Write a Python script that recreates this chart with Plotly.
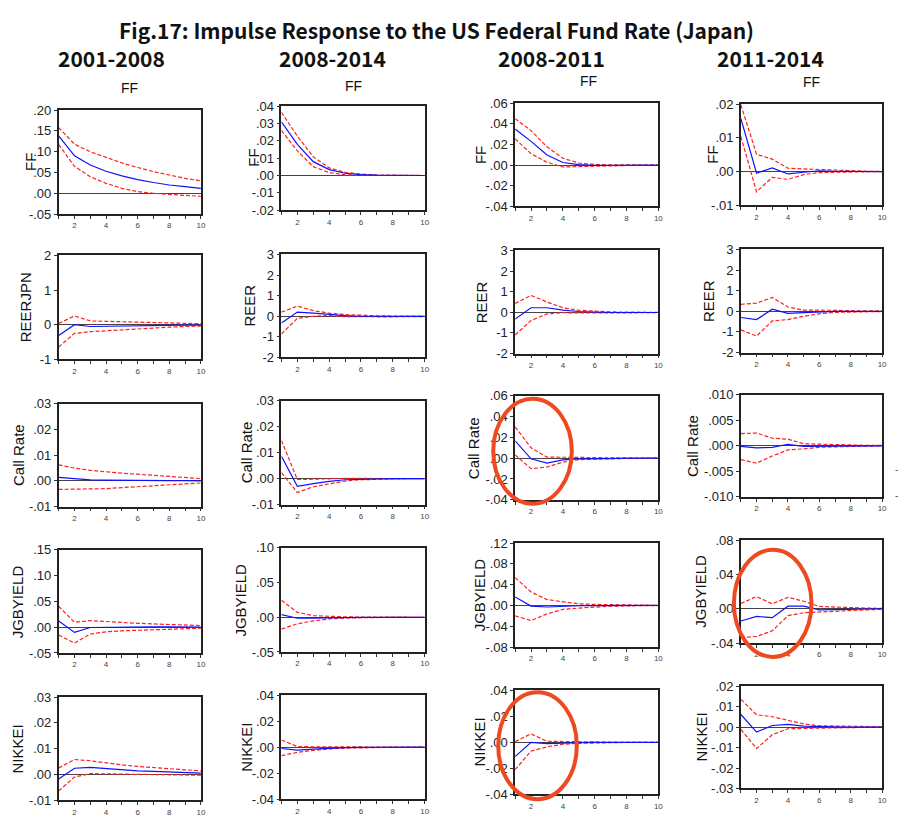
import plotly.graph_objects as go

W, H = 904, 819

# Horizon (periods after the shock)
periods = list(range(1, 11))

# Column headers (sample periods) and response variables (rows)
sample_titles = ["2001-2008", "2008-2014", "2008-2011", "2011-2014"]
row_labels = [
    ["FF", "FF", "FF", "FF"],
    ["REERJPN", "REER", "REER", "REER"],
    ["Call Rate", "Call Rate", "Call Rate", "Call Rate"],
    ["JGBYIELD", "JGBYIELD", "JGBYIELD", "JGBYIELD"],
    ["NIKKEI", "NIKKEI", "NIKKEI", "NIKKEI"],
]

# ---- FF response ----
ff_0108 = [0.138, 0.090, 0.068, 0.053, 0.042, 0.033, 0.026, 0.020, 0.016, 0.012]
ff_0108_hi = [0.158, 0.118, 0.100, 0.086, 0.073, 0.062, 0.052, 0.044, 0.036, 0.030]
ff_0108_lo = [0.117, 0.065, 0.040, 0.024, 0.012, 0.004, 0.000, -0.003, -0.005, -0.007]

ff_0814 = [0.031, 0.018, 0.008, 0.0034, 0.0013, 0.0005, 0.0002, 0.0001, 0.0, 0.0]
ff_0814_hi = [0.0365, 0.0227, 0.0108, 0.0044, 0.0018, 0.0008, 0.0003, 0.0001, 0.0, 0.0]
ff_0814_lo = [0.026, 0.0142, 0.0051, 0.0017, 0.0004, 0.0001, 0.0, 0.0, 0.0, 0.0]

ff_0811 = [0.035, 0.023, 0.0098, 0.0025, 0.0005, -0.0003, -0.0002, -0.0001, 0.0, 0.0]
ff_0811_hi = [0.045, 0.0334, 0.0177, 0.0066, 0.002, 0.0005, 0.0002, 0.0001, 0.0, 0.0]
ff_0811_lo = [0.0255, 0.011, 0.0028, -0.0019, -0.0015, -0.001, -0.0006, -0.0003, -0.0001, 0.0]

ff_1114 = [0.0157, -0.0005, 0.0011, -0.0007, -0.0002, 0.0002, 0.0001, 0.0, 0.0, 0.0]
ff_1114_hi = [0.0198, 0.0051, 0.0037, 0.0010, 0.0008, 0.0006, 0.0003, 0.0002, 0.0001, 0.0001]
ff_1114_lo = [0.0104, -0.0060, -0.0017, -0.0023, -0.0009, -0.0003, -0.0002, -0.0001, -0.0001, 0.0]

# ---- Real effective exchange rate ----
reer_0108 = [-0.31, 0.0, -0.05, -0.04, -0.03, -0.03, -0.02, -0.02, -0.01, -0.01]
reer_0108_hi = [0.04, 0.25, 0.11, 0.10, 0.08, 0.07, 0.06, 0.05, 0.04, 0.03]
reer_0108_lo = [-0.64, -0.25, -0.20, -0.17, -0.14, -0.11, -0.09, -0.07, -0.05, -0.04]

reer_0814 = [-0.33, 0.20, 0.15, 0.08, 0.03, 0.0, -0.01, -0.01, -0.01, -0.01]
reer_0814_hi = [0.20, 0.49, 0.27, 0.15, 0.08, 0.04, 0.02, 0.01, 0.0, 0.0]
reer_0814_lo = [-0.86, -0.10, 0.0, 0.03, -0.02, -0.03, -0.03, -0.03, -0.02, -0.02]

reer_0811 = [-0.33, 0.22, 0.22, 0.11, 0.04, 0.0, -0.01, -0.01, -0.01, -0.01]
reer_0811_hi = [0.43, 0.82, 0.50, 0.22, 0.10, 0.05, 0.02, 0.01, 0.0, 0.0]
reer_0811_lo = [-1.10, -0.40, -0.08, -0.02, -0.03, -0.04, -0.04, -0.03, -0.02, -0.02]

reer_1114 = [-0.30, -0.40, 0.10, -0.10, -0.06, -0.02, 0.0, 0.0, 0.0, 0.0]
reer_1114_hi = [0.34, 0.40, 0.67, 0.21, 0.06, 0.07, 0.05, 0.03, 0.02, 0.02]
reer_1114_lo = [-0.90, -1.20, -0.46, -0.40, -0.24, -0.12, -0.05, -0.03, -0.02, -0.01]

# ---- Call rate ----
call_0108 = [0.0014, 0.0010, 0.0004, 0.0003, 0.0002, 0.0002, 0.0001, 0.0001, 0.0001, 0.0]
call_0108_hi = [0.0062, 0.0050, 0.0041, 0.0035, 0.0030, 0.0026, 0.0022, 0.0017, 0.0013, 0.0009]
call_0108_lo = [-0.0033, -0.0032, -0.0033, -0.0030, -0.0026, -0.0022, -0.0018, -0.0014, -0.0010, -0.0008]

call_0814 = [0.0086, -0.0029, -0.0019, -0.0010, -0.0004, -0.0002, -0.0001, 0.0, 0.0, 0.0]
call_0814_hi = [0.0147, -0.0003, -0.0002, 0.0, 0.0001, 0.0001, 0.0001, 0.0, 0.0, 0.0]
call_0814_lo = [0.0023, -0.0053, -0.0031, -0.0019, -0.0009, -0.0004, -0.0002, -0.0001, 0.0, 0.0]

call_0811 = [0.0167, -0.0006, -0.0047, -0.0016, -0.0006, -0.0003, -0.0001, 0.0, 0.0, 0.0]
call_0811_hi = [0.030, 0.010, 0.001, 0.0012, 0.0008, 0.0005, 0.0003, 0.0002, 0.0001, 0.0]
call_0811_lo = [0.0032, -0.0101, -0.0085, -0.0038, -0.0014, -0.0008, -0.0004, -0.0002, -0.0001, 0.0]

call_1114 = [-0.0001, -0.0004, -0.0003, 0.0003, -0.0001, -0.0001, 0.0, 0.0, 0.0, 0.0]
call_1114_hi = [0.0024, 0.0025, 0.0015, 0.0013, 0.0004, 0.0003, 0.0002, 0.0002, 0.0001, 0.0001]
call_1114_lo = [-0.0027, -0.0034, -0.0020, -0.0008, -0.0006, -0.0003, -0.0002, -0.0001, -0.0001, 0.0]

# ---- JGB yield ----
jgb_0108 = [0.012, -0.0102, -0.0006, 0.0, 0.0003, 0.0004, 0.0004, 0.0004, 0.0004, 0.0003]
jgb_0108_hi = [0.0406, 0.0095, 0.0127, 0.0105, 0.0090, 0.0075, 0.0063, 0.0052, 0.0042, 0.0032]
jgb_0108_lo = [-0.015, -0.031, -0.0133, -0.009, -0.007, -0.006, -0.005, -0.004, -0.003, -0.002]

jgb_0814 = [0.0038, -0.0014, -0.0012, -0.0005, 0.0, 0.0, 0.0, 0.0, 0.0, 0.0]
jgb_0814_hi = [0.0245, 0.0071, 0.0024, 0.0012, 0.0006, 0.0003, 0.0002, 0.0001, 0.0001, 0.0]
jgb_0814_lo = [-0.017, -0.0094, -0.0052, -0.0024, -0.0010, -0.0004, -0.0002, -0.0001, 0.0, 0.0]

jgb_0811 = [0.0164, -0.0013, -0.0030, -0.0013, -0.0006, -0.0003, -0.0001, 0.0, 0.0, 0.0]
jgb_0811_hi = [0.0535, 0.0258, 0.0113, 0.0070, 0.0030, 0.0020, 0.0012, 0.0006, 0.0003, 0.0001]
jgb_0811_lo = [-0.020, -0.029, -0.0164, -0.0075, -0.0050, -0.0030, -0.0015, -0.0008, -0.0004, -0.0002]

jgb_1114 = [-0.0142, -0.0088, -0.0104, 0.0030, 0.0030, -0.0012, -0.0010, -0.0005, -0.0003, 0.0]
jgb_1114_hi = [0.0061, 0.0142, 0.0058, 0.0134, 0.0088, 0.0027, 0.0020, 0.0012, 0.0008, 0.0005]
jgb_1114_lo = [-0.0337, -0.0322, -0.0257, -0.0080, -0.0046, -0.0042, -0.0030, -0.0020, -0.0012, -0.0006]

# ---- Nikkei ----
nikkei_0108 = [-0.0018, 0.0024, 0.0027, 0.0022, 0.0018, 0.0014, 0.0012, 0.0010, 0.0008, 0.0005]
nikkei_0108_hi = [0.0025, 0.0058, 0.0053, 0.0044, 0.0037, 0.0031, 0.0026, 0.0022, 0.0018, 0.0014]
nikkei_0108_lo = [-0.0064, -0.0010, 0.0003, 0.0002, 0.0, -0.0001, -0.0002, -0.0002, -0.0003, -0.0003]

nikkei_0814 = [-0.0010, -0.0023, -0.0015, -0.0007, -0.0003, -0.0001, 0.0, 0.0, 0.0, 0.0]
nikkei_0814_hi = [0.0055, 0.0005, 0.0003, 0.0002, 0.0001, 0.0001, 0.0, 0.0, 0.0, 0.0]
nikkei_0814_lo = [-0.0065, -0.0040, -0.0025, -0.0013, -0.0007, -0.0004, -0.0002, -0.0001, -0.0001, 0.0]

nikkei_0811 = [-0.0110, 0.0, -0.0010, -0.0005, -0.0002, -0.0001, 0.0, 0.0, 0.0, 0.0]
nikkei_0811_hi = [0.0005, 0.0065, 0.0008, 0.0005, 0.0003, 0.0002, 0.0001, 0.0, 0.0, 0.0]
nikkei_0811_lo = [-0.0210, -0.0068, -0.0035, -0.0015, -0.0008, -0.0004, -0.0002, -0.0001, 0.0, 0.0]

nikkei_1114 = [0.0062, -0.0024, 0.0008, 0.0014, 0.0005, 0.0002, 0.0001, 0.0, 0.0, 0.0]
nikkei_1114_hi = [0.0136, 0.0061, 0.0051, 0.0035, 0.0016, 0.0007, 0.0005, 0.0004, 0.0003, 0.0002]
nikkei_1114_lo = [-0.0011, -0.0105, -0.0037, -0.0008, -0.0006, -0.0004, -0.0003, -0.0002, -0.0001, -0.0001]

# Panel series: (response, upper band, lower band), row-major
series = [
    [(ff_0108, ff_0108_hi, ff_0108_lo), (ff_0814, ff_0814_hi, ff_0814_lo),
     (ff_0811, ff_0811_hi, ff_0811_lo), (ff_1114, ff_1114_hi, ff_1114_lo)],
    [(reer_0108, reer_0108_hi, reer_0108_lo), (reer_0814, reer_0814_hi, reer_0814_lo),
     (reer_0811, reer_0811_hi, reer_0811_lo), (reer_1114, reer_1114_hi, reer_1114_lo)],
    [(call_0108, call_0108_hi, call_0108_lo), (call_0814, call_0814_hi, call_0814_lo),
     (call_0811, call_0811_hi, call_0811_lo), (call_1114, call_1114_hi, call_1114_lo)],
    [(jgb_0108, jgb_0108_hi, jgb_0108_lo), (jgb_0814, jgb_0814_hi, jgb_0814_lo),
     (jgb_0811, jgb_0811_hi, jgb_0811_lo), (jgb_1114, jgb_1114_hi, jgb_1114_lo)],
    [(nikkei_0108, nikkei_0108_hi, nikkei_0108_lo), (nikkei_0814, nikkei_0814_hi, nikkei_0814_lo),
     (nikkei_0811, nikkei_0811_hi, nikkei_0811_lo), (nikkei_1114, nikkei_1114_hi, nikkei_1114_lo)],
]

# Y scale of each panel: (min, max, step, decimals)
y_scales = [
    [(-0.05, 0.20, 0.05, 2), (-0.02, 0.04, 0.01, 2), (-0.04, 0.06, 0.02, 2), (-0.01, 0.02, 0.01, 2)],
    [(-1, 2, 1, 0), (-2, 3, 1, 0), (-2, 3, 1, 0), (-2, 3, 1, 0)],
    [(-0.01, 0.03, 0.01, 2), (-0.01, 0.03, 0.01, 2), (-0.04, 0.06, 0.02, 2), (-0.010, 0.010, 0.005, 3)],
    [(-0.05, 0.15, 0.05, 2), (-0.05, 0.10, 0.05, 2), (-0.08, 0.12, 0.04, 2), (-0.04, 0.08, 0.04, 2)],
    [(-0.01, 0.03, 0.01, 2), (-0.04, 0.04, 0.02, 2), (-0.04, 0.04, 0.02, 2), (-0.03, 0.02, 0.01, 2)],
]

# ---- Layout geometry (pixels) ----
col_x = [(59, 202), (283, 427), (518, 662), (745, 887)]
row_y = [  # per column: (top, bottom) for each row
    [(105, 211), (253, 359), (404, 509), (553, 658), (703, 808)],
    [(101, 207), (252, 357), (401, 507), (551, 657), (701, 807)],
    [(98, 203), (248, 353), (396, 502), (546, 652), (696, 802)],
    [(99, 202), (247, 352), (395, 499), (543, 648), (692, 796)],
]
ylabel_x = [
    [30, 26, 18, 18, 18],
    [255, 251, 248, 242, 248],
    [483, 485, 476, 482, 482],
    [717, 712, 697, 704, 705],
]


def px_x(p):
    return p / W


def px_y(p):
    return 1 - p / H


def eviews_label(v, dec):
    if dec == 0:
        return str(int(round(v)))
    s = f"{abs(v):.{dec}f}"
    if s.startswith("0"):
        s = s[1:]
    return ("-" + s) if v < -1e-12 else s


FONT = "Liberation Sans, Arial, sans-serif"
HEAD_FONT = "Noto Sans CJK JP, sans-serif"

fig = go.Figure()
annotations = []

for r in range(5):
    for c in range(4):
        k = r * 4 + c + 1
        xa = "x" if k == 1 else f"x{k}"
        ya = "y" if k == 1 else f"y{k}"
        resp, hi, lo = series[r][c]
        for vals, color, dash in ((hi, "#FF2020", "4px,2px"),
                                  (lo, "#FF2020", "4px,2px"),
                                  (resp, "#1010FF", "solid")):
            fig.add_trace(go.Scatter(
                x=periods, y=vals, mode="lines", xaxis=xa, yaxis=ya,
                line=dict(color=color, width=1.2, dash=dash),
                showlegend=False, hoverinfo="skip"))

        lo_v, hi_v, step, dec = y_scales[r][c]
        n = int(round((hi_v - lo_v) / step))
        tvals = [lo_v + i * step for i in range(n + 1)]
        ttext = [eviews_label(v, dec) for v in tvals]

        x0, x1 = col_x[c]
        t, b = row_y[c][r]
        fig.layout[("xaxis" if k == 1 else f"xaxis{k}")] = dict(
            domain=[px_x(x0), px_x(x1)], anchor=ya, range=[1, 10],
            tickvals=periods,
            ticktext=[str(p) if p % 2 == 0 else "" for p in periods],
            ticks="outside", ticklen=3, tickwidth=1, tickcolor="#333",
            showline=True, linecolor="#222", linewidth=1.5, mirror=True,
            showgrid=False, zeroline=False,
            tickfont=dict(family=FONT, size=8, color="#444"),
        )
        fig.layout[("yaxis" if k == 1 else f"yaxis{k}")] = dict(
            domain=[px_y(b), px_y(t)], anchor=xa, range=[lo_v, hi_v],
            tickvals=tvals, ticktext=ttext,
            ticks="outside", ticklen=3, tickwidth=1, tickcolor="#333",
            showline=True, linecolor="#222", linewidth=1.5, mirror=True,
            showgrid=False, zeroline=True, zerolinecolor="#444", zerolinewidth=1.2,
            tickfont=dict(family=FONT, size=13, color="#222"),
        )
        annotations.append(dict(
            text=row_labels[r][c], x=px_x(ylabel_x[c][r]), y=px_y((t + b) / 2),
            xref="paper", yref="paper", showarrow=False, textangle=-90,
            xanchor="center", yanchor="middle",
            font=dict(family=FONT, size=15, color="#111")))

# Figure title, sample headers and "FF" shock captions
annotations.append(dict(
    text="<b>Fig.17: Impulse Response to the US Federal Fund Rate (Japan)</b>",
    x=px_x(439), y=px_y(23), xref="paper", yref="paper", showarrow=False,
    xanchor="center", yanchor="middle",
    font=dict(family=HEAD_FONT, size=21, color="#111")))
header_x = [112, 334, 555, 775]
shock_pos = [(130, 83), (355, 80), (592, 75), (816, 76)]
for c in range(4):
    annotations.append(dict(
        text=f"<b>{sample_titles[c]}</b>", x=px_x(header_x[c]), y=px_y(52),
        xref="paper", yref="paper", showarrow=False,
        xanchor="center", yanchor="middle",
        font=dict(family=HEAD_FONT, size=21, color="#111")))
    annotations.append(dict(
        text="FF", x=px_x(shock_pos[c][0]), y=px_y(shock_pos[c][1]),
        xref="paper", yref="paper", showarrow=False,
        xanchor="center", yanchor="middle",
        font=dict(family=FONT, size=14, color="#111")))

# Cut-off tick marks of the neighbouring panel at the right edge
for yy in (471, 498):
    annotations.append(dict(
        text="-", x=px_x(901), y=px_y(yy), xref="paper", yref="paper",
        showarrow=False, xanchor="center", yanchor="middle",
        font=dict(family=FONT, size=10, color="#555")))

# Highlight ellipses
highlight = [(496, 575, 399, 506), (738, 816, 553, 662), (501, 580, 698, 807)]
shapes = []
for (ex0, ex1, ey0, ey1) in highlight:
    shapes.append(dict(
        type="circle", xref="paper", yref="paper",
        x0=px_x(ex0), x1=px_x(ex1), y0=px_y(ey1), y1=px_y(ey0),
        line=dict(color="#EE4A22", width=4), fillcolor="rgba(0,0,0,0)"))

fig.update_layout(
    width=W, height=H, margin=dict(l=0, r=0, t=0, b=0),
    paper_bgcolor="white", plot_bgcolor="white",
    annotations=annotations, shapes=shapes, showlegend=False,
)

fig.write_html("out.html")
